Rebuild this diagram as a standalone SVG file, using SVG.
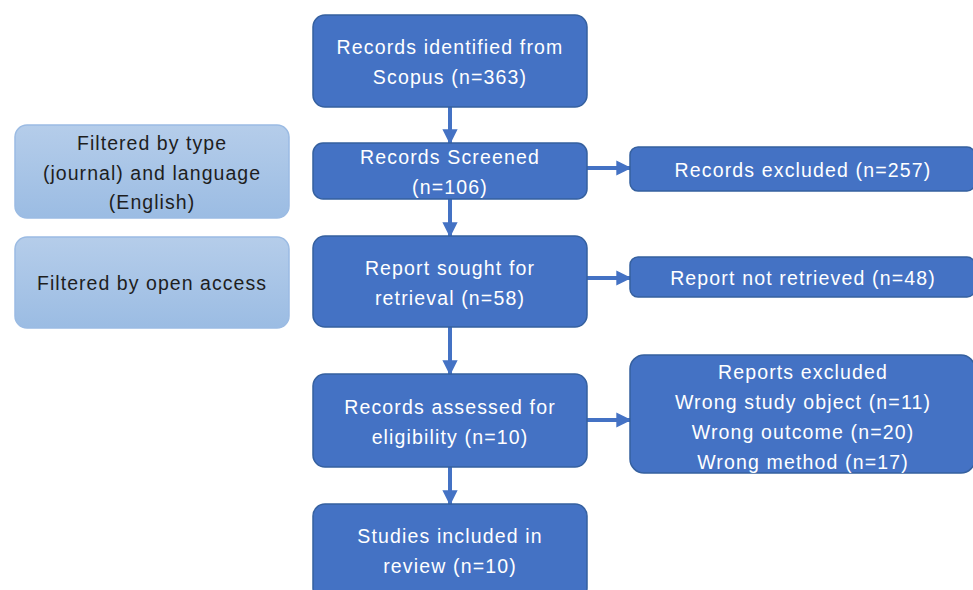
<svg xmlns="http://www.w3.org/2000/svg" width="973" height="590" viewBox="0 0 973 590">
<style>
.box{fill:#4472C4;stroke:#35609f;stroke-width:1.5}
.lbox{fill:url(#lg);stroke:#9bbbe3;stroke-width:1.5}
.t{font-family:"Liberation Sans",Arial,sans-serif;font-size:19.5px;letter-spacing:1.15px;fill:#ffffff;text-anchor:middle}
.lt{font-family:"Liberation Sans",Arial,sans-serif;font-size:19.5px;letter-spacing:1.05px;fill:#1e1e1e;text-anchor:middle}
.c{stroke:#4472C4;stroke-width:4;fill:none;marker-end:url(#ah)}
</style>
<defs>
<linearGradient id="lg" x1="0" y1="0" x2="0" y2="1">
<stop offset="0" stop-color="#b5cdea"/>
<stop offset="1" stop-color="#9bbce3"/>
</linearGradient>
<marker id="ah" viewBox="0 0 10 10" refX="9" refY="5" markerWidth="3.8" markerHeight="3.8" orient="auto" markerUnits="strokeWidth">
<path d="M0,0 L10,5 L0,10 Z" fill="#4472C4"/>
</marker>
</defs>
<rect width="973" height="590" fill="#ffffff"/>
<g id="connectors">
<line class="c" x1="450" y1="107" x2="450" y2="143"/>
<line class="c" x1="450" y1="199" x2="450" y2="236"/>
<line class="c" x1="450" y1="327" x2="450" y2="374"/>
<line class="c" x1="450" y1="467" x2="450" y2="504"/>
<line class="c" x1="587" y1="168" x2="630" y2="168"/>
<line class="c" x1="587" y1="278" x2="630" y2="278"/>
<line class="c" x1="587" y1="420" x2="630" y2="420"/>
</g>
<g id="filter-type">
<rect class="lbox" x="15" y="125" width="274" height="93" rx="12"/>
<text class="lt" x="152" y="150">Filtered by type</text>
<text class="lt" x="152" y="180">(journal) and language</text>
<text class="lt" x="152" y="209">(English)</text>
</g>
<g id="filter-open">
<rect class="lbox" x="15" y="237" width="274" height="91" rx="12"/>
<text class="lt" x="152" y="290">Filtered by open access</text>
</g>
<g id="identified">
<rect class="box" x="313" y="15" width="274" height="92" rx="12"/>
<text class="t" x="450" y="54">Records identified from</text>
<text class="t" x="450" y="84">Scopus (n=363)</text>
</g>
<g id="screened">
<rect class="box" x="313" y="143" width="274" height="56" rx="10"/>
<text class="t" x="450" y="164">Records Screened</text>
<text class="t" x="450" y="194">(n=106)</text>
</g>
<g id="excluded">
<rect class="box" x="630" y="147" width="345" height="44" rx="8"/>
<text class="t" x="803" y="177">Records excluded (n=257)</text>
</g>
<g id="sought">
<rect class="box" x="313" y="236" width="274" height="91" rx="12"/>
<text class="t" x="450" y="275">Report sought for</text>
<text class="t" x="450" y="305">retrieval (n=58)</text>
</g>
<g id="not-retrieved">
<rect class="box" x="630" y="257" width="345" height="40" rx="8"/>
<text class="t" x="803" y="285">Report not retrieved (n=48)</text>
</g>
<g id="assessed">
<rect class="box" x="313" y="374" width="274" height="93" rx="12"/>
<text class="t" x="450" y="414">Records assessed for</text>
<text class="t" x="450" y="444">eligibility (n=10)</text>
</g>
<g id="reports-excluded">
<rect class="box" x="630" y="355" width="345" height="118" rx="14"/>
<text class="t" x="803" y="379">Reports excluded</text>
<text class="t" x="803" y="409">Wrong study object (n=11)</text>
<text class="t" x="803" y="439">Wrong outcome (n=20)</text>
<text class="t" x="803" y="469">Wrong method (n=17)</text>
</g>
<g id="included">
<rect class="box" x="313" y="504" width="274" height="96" rx="12"/>
<text class="t" x="450" y="543">Studies included in</text>
<text class="t" x="450" y="573">review (n=10)</text>
</g>
</svg>
